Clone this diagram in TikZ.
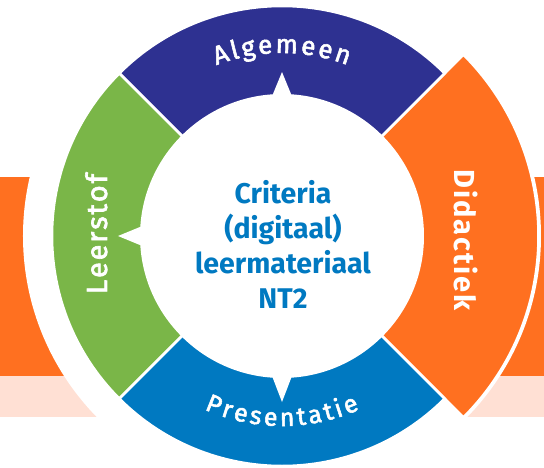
\documentclass[tikz,border=0pt]{standalone}
\usepackage{fontspec}
\setmainfont{Fira Sans}
\newfontfamily\segfont{Fira Sans}[FakeBold=2.2]
\definecolor{cNavy}{HTML}{2E3191}
\definecolor{cGreen}{HTML}{7AB648}
\definecolor{cOrange}{HTML}{FF7020}
\definecolor{cBlue}{HTML}{0079C1}
\definecolor{cPeach}{HTML}{FFE0D4}
% total width of a list of letters with extra spacing: result in \awtot
\newcommand\awmeasure[2]{%
  \xdef\awtotal{0}%
  \foreach \ch in {#2}{\pgfmathsetmacro\aww{width("\ch")}\pgfmathsetmacro\awt{\awtotal+\aww+#1}\xdef\awtotal{\awt}}%
  \pgfmathsetmacro\awtot{\awtotal-#1}%
  \xdef\awcum{0}}
% letters on an arc round the origin
% #1 radius, #2 centre angle, #3 +1 clockwise / -1 counter-clockwise, #4 letter spacing, #5 font, #6 letters
\newcommand\arcword[6]{%
  \begingroup#5%
  \awmeasure{#4}{#6}%
  \foreach \ch in {#6}{%
    \pgfmathsetmacro\aww{width("\ch")}%
    \pgfmathsetmacro\awth{#2+#3*deg((\awtot/2-\awcum-\aww/2)/#1)}%
    \pgfmathsetmacro\awrt{\awth-#3*90}%
    \node[seglabel, rotate=\awrt] at (\awth:#1) {#5\ch};%
    \pgfmathsetmacro\awc{\awcum+\aww+#4}\xdef\awcum{\awc}%
  }%
  \endgroup}
% letters on a straight line
% #1 x, #2 y (centre of baseline), #3 rotation, #4 letter spacing, #5 font, #6 letters
\newcommand\lineword[6]{%
  \begingroup#5%
  \awmeasure{#4}{#6}%
  \foreach \ch in {#6}{%
    \pgfmathsetmacro\aww{width("\ch")}%
    \pgfmathsetmacro\awp{\awcum+\aww/2-\awtot/2}%
    \node[seglabel, rotate=#3] at ({#1+\awp*cos(#3)},{#2+\awp*sin(#3)}) {#5\ch};%
    \pgfmathsetmacro\awc{\awcum+\aww+#4}\xdef\awcum{\awc}%
  }%
  \endgroup}
\tikzset{
  seglabel/.style={anchor=base, inner sep=0pt, text=white},
  segment/.style={draw=white, line width=2.5pt},
  notch/.style={fill=white}
}
\begin{document}
\begin{tikzpicture}[x=1pt,y=1pt]
\useasboundingbox (-282,-231) rectangle (262,236);
% background bands
\fill[cOrange] (-282,-140) rectangle (262,59);
\fill[cPeach] (-282,-181) rectangle (262,-140);
\fill[white] (0,0) circle[radius=259];
% segments
\filldraw[segment, fill=cOrange] (0,0) -- (-45:256.5) arc[start angle=-45, end angle=45, radius=256.5] -- cycle;
\filldraw[segment, fill=cNavy] (0,0) -- (45:230) arc[start angle=45, end angle=135, radius=230] -- cycle;
\filldraw[segment, fill=cGreen] (0,0) -- (135:230) arc[start angle=135, end angle=225, radius=230] -- cycle;
\filldraw[segment, fill=cBlue] (0,0) -- (225:230) arc[start angle=225, end angle=315, radius=230] -- cycle;
% inner disk and notches
\fill[white] (0,0) circle[radius=142];
\fill[notch] (-11.5,136) -- (0,164) -- (11.5,136) -- cycle;
\fill[notch] (-136,-11.5) -- (-164,0) -- (-136,11.5) -- cycle;
\fill[notch] (-11.5,-136) -- (0,-166) -- (11.5,-136) -- cycle;
% centre text
\node[align=center, text=cBlue, font=\bfseries\fontsize{28.5}{35}\selectfont] (centre) at (1,-8)
  {Criteria\\(digitaal)\\leermateriaal\\NT2};
% segment labels
\arcword{183}{90}{1}{2.6}{\segfont\fontsize{26}{30}\selectfont}{A,l,g,e,m,e,e,n}
\arcword{190}{270}{-1}{3}{\segfont\fontsize{25}{30}\selectfont}{P,r,e,s,e,n,t,a,t,i,e}
\lineword{-175}{2}{90}{1.8}{\segfont\fontsize{29}{30}\selectfont}{L,e,e,r,s,t,o,f}
\lineword{172}{-4}{-90}{2}{\bfseries\fontsize{29}{36}\selectfont}{D,i,d,a,c,t,i,e,k}
\end{tikzpicture}
\end{document}
